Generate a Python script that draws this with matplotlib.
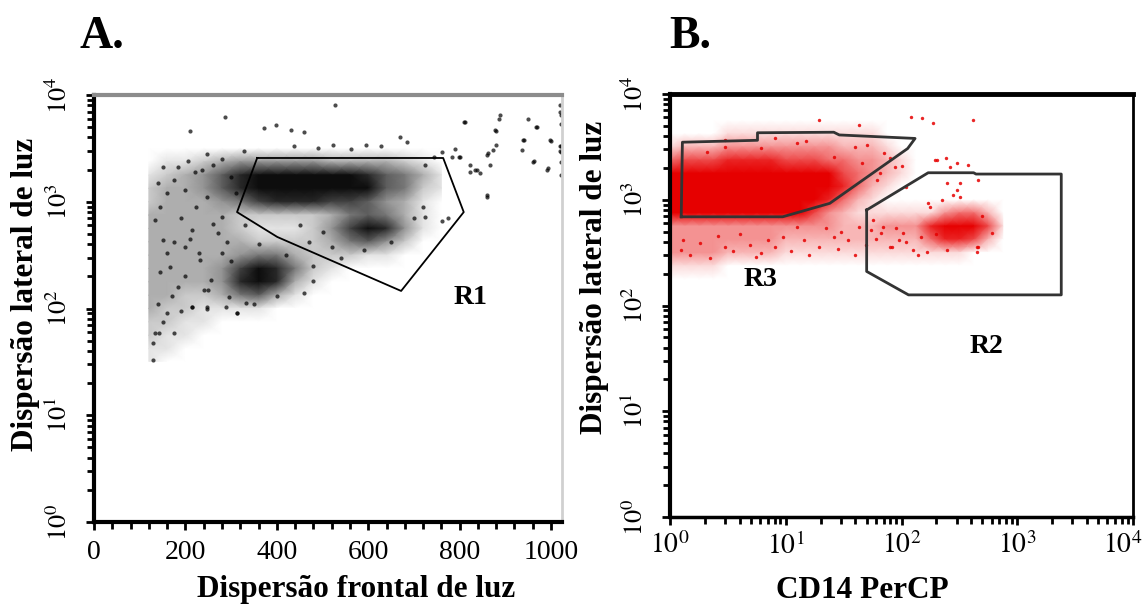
import numpy as np
import matplotlib
matplotlib.use("Agg")
import matplotlib.pyplot as plt
from matplotlib.colors import LinearSegmentedColormap
from matplotlib.ticker import MultipleLocator, LogLocator, NullFormatter
from matplotlib.transforms import ScaledTranslation

plt.rcParams['font.family'] = ['Liberation Serif', 'DejaVu Serif']
plt.rcParams['mathtext.fontset'] = 'stix'

# ---------------- panel A : FSC (linear) x SSC (log) ----------------
# density of the event cloud (0 = empty, 10 = solid)
a_grid_x = [120, 160, 200, 240, 280, 320, 360, 400, 440, 480, 520, 560, 600, 640, 680, 720, 760]
a_grid_y = [4217, 3162, 2371, 1778, 1334, 1000, 750, 562, 422, 316, 237, 178, 133, 100, 75, 56, 42, 32]
a_density = [
    [0, 0, 0, 0, 0, 0, 0, 0, 0, 0, 0, 0, 0, 0, 0, 0, 0],
    [0, 0, 0, 0, 0, 0, 0, 0, 0, 0, 0, 0, 0, 0, 0, 0, 0],
    [0, 1, 1, 2, 3, 4, 4, 4, 4, 4, 3, 3, 3, 3, 2, 1, 0],
    [1, 2, 3, 4, 6, 8, 9, 10, 10, 10, 9, 9, 8, 6, 5, 3, 1],
    [2, 3, 3, 4, 6, 8, 10, 10, 10, 10, 10, 10, 9, 6, 5, 2, 1],
    [2, 3, 3, 3, 4, 5, 7, 8, 8, 8, 7, 7, 6, 4, 3, 1, 0],
    [3, 3, 3, 3, 3, 2, 2, 2, 2, 2, 3, 5, 6, 5, 3, 1, 0],
    [3, 3, 3, 3, 3, 2, 1, 1, 1, 2, 4, 7, 9, 8, 4, 1, 0],
    [3, 3, 3, 3, 3, 3, 2, 2, 2, 2, 3, 5, 6, 4, 2, 0, 0],
    [3, 3, 3, 3, 3, 4, 5, 5, 3, 2, 2, 2, 1, 1, 0, 0, 0],
    [3, 3, 3, 3, 4, 7, 9, 8, 5, 2, 1, 0, 0, 0, 0, 0, 0],
    [3, 3, 3, 3, 4, 8, 10, 8, 3, 1, 0, 0, 0, 0, 0, 0, 0],
    [3, 3, 2, 2, 3, 5, 6, 3, 1, 0, 0, 0, 0, 0, 0, 0, 0],
    [3, 2, 2, 1, 1, 1, 1, 0, 0, 0, 0, 0, 0, 0, 0, 0, 0],
    [2, 2, 1, 1, 0, 0, 0, 0, 0, 0, 0, 0, 0, 0, 0, 0, 0],
    [2, 1, 1, 0, 0, 0, 0, 0, 0, 0, 0, 0, 0, 0, 0, 0, 0],
    [1, 1, 0, 0, 0, 0, 0, 0, 0, 0, 0, 0, 0, 0, 0, 0, 0],
    [1, 0, 0, 0, 0, 0, 0, 0, 0, 0, 0, 0, 0, 0, 0, 0, 0],
]

# single events outside / around the dense parts
a_dots_x = [527, 286, 209, 398, 373, 430, 460, 810, 887, 950, 1020, 879, 940, 968, 1000, 1020, 1020, 1020,
            992, 963, 863, 839, 823, 859, 790, 799, 745, 725, 669, 685, 628, 596, 563, 524, 490, 437, 329,
            280, 247, 774, 725, 762,
            888, 812, 877, 969, 939, 998, 1021, 1021, 1021, 1021, 1021, 1021, 993, 961, 936, 880, 873, 860,
            867, 845, 823, 834, 860, 801, 783, 761,
            134, 150, 167, 183, 159, 134, 175, 199, 215, 224, 199, 175, 183, 236, 248, 231, 256, 272, 280,
            215, 248, 280, 296, 312, 240, 130, 130, 142, 215, 247, 288, 313, 333,
            470, 520, 500, 450, 540, 590, 650, 700, 720, 480,
            140, 160, 145, 190, 210, 160, 145, 170, 200, 230, 260, 290, 300, 250, 190, 150, 140, 175,
            220, 260, 300, 310, 205, 150, 330, 360, 420, 480, 460, 400, 350]
a_dots_y = [8050, 6170, 4630, 5240, 4900, 4700, 4500, 5620, 5900, 5900, 8000, 4600, 3800, 5000, 3700, 3300, 3000, 7000,
            1990, 2400, 2860, 2000, 1900, 1115, 3100, 2600, 2600, 2200, 4070, 3600, 3300, 3400, 3100, 3400, 3200, 3300, 3000,
            2500, 2800, 706, 720, 660,
            6500, 5600, 4700, 5050, 3800, 3800, 6500, 5300, 3300, 2950, 2370, 1780, 2070, 2370, 3050, 3400, 3050, 2750,
            2200, 1860, 2200, 2000, 1150, 2630, 2630, 2950,
            675, 439, 247, 160, 90, 58.5, 58.5, 379, 543, 900, 1288, 1600, 2128, 1982, 1114, 284, 185, 506, 724,
            104, 104, 329, 129, 90, 149, 33, 47.5, 59, 104, 100, 104, 91, 112,
            420, 380, 520, 600, 300, 350, 420, 700, 900, 250,
            1500, 1200, 900, 700, 450, 330, 220, 130, 200, 330, 620, 420, 280, 150, 95, 75, 110, 420,
            1900, 2200, 1700, 1200, 2400, 2100, 600, 400, 320, 180, 140, 130, 110]

# gate R1
r1_x = [357, 764, 809, 672, 401, 313]
r1_y = [2570, 2570, 800, 146, 468, 800]

a_xticks = [0, 200, 400, 600, 800, 1000]
a_yticks = [1, 10, 100, 1000, 10000]
a_ytick_labels = ['$10^{0}$', '$10^{1}$', '$10^{2}$', '$10^{3}$', '$10^{4}$']

# ---------------- panel B : CD14 PerCP (log) x SSC (log) ----------------
b_grid_x = [1.00, 1.33, 1.78, 2.37, 3.16, 4.22, 5.62, 7.50, 10.0, 13.3, 17.8, 23.7,
            31.6, 42.2, 56.2, 75.0, 100, 133, 178, 237, 316, 422, 562, 750]
b_grid_y = [5623, 4217, 3162, 2371, 1778, 1334, 1000, 750, 562, 422, 316, 237, 178]
b_density = [
    [0, 0, 0, 0, 0, 0, 0, 0, 0, 0, 0, 0, 0, 0, 0, 0, 0, 0, 0, 0, 0, 0, 0, 0],
    [0, 0, 0, 0, 1, 1, 1, 1, 1, 1, 1, 1, 1, 1, 1, 0, 0, 0, 0, 0, 0, 0, 0, 0],
    [1, 2, 2, 2, 3, 3, 3, 3, 3, 3, 3, 3, 2, 2, 2, 1, 0, 0, 0, 0, 0, 0, 0, 0],
    [4, 5, 5, 5, 6, 6, 6, 6, 5, 5, 5, 4, 4, 3, 3, 2, 1, 0, 0, 0, 0, 0, 0, 0],
    [9, 10, 10, 10, 10, 10, 10, 10, 9, 9, 8, 7, 5, 4, 3, 2, 1, 0, 0, 0, 0, 0, 0, 0],
    [10, 10, 10, 10, 10, 10, 10, 10, 10, 10, 10, 8, 6, 4, 2, 1, 0, 0, 0, 0, 0, 0, 0, 0],
    [10, 10, 10, 10, 10, 10, 10, 10, 10, 10, 8, 6, 4, 2, 1, 0, 0, 0, 0, 0, 0, 0, 0, 0],
    [7, 8, 8, 8, 8, 8, 8, 8, 8, 7, 5, 3, 2, 1, 1, 1, 1, 1, 1, 3, 4, 4, 2, 0],
    [3, 3, 3, 3, 3, 3, 3, 3, 3, 3, 3, 3, 2, 2, 2, 3, 3, 3, 6, 10, 10, 10, 5, 1],
    [3, 3, 3, 3, 3, 3, 3, 3, 2, 2, 2, 2, 2, 2, 2, 2, 2, 2, 4, 6, 6, 5, 2, 0],
    [3, 3, 3, 3, 2, 2, 2, 2, 1, 1, 1, 1, 1, 1, 1, 1, 1, 1, 1, 1, 1, 0, 0, 0],
    [1, 1, 1, 1, 0, 0, 0, 0, 0, 0, 0, 0, 0, 0, 0, 0, 0, 0, 0, 0, 0, 0, 0, 0],
    [0, 0, 0, 0, 0, 0, 0, 0, 0, 0, 0, 0, 0, 0, 0, 0, 0, 0, 0, 0, 0, 0, 0, 0],
]

b_dots_x = [122, 151, 187, 415, 19.4, 42.9, 202, 241, 300, 322, 279, 224, 168, 462, 109,
            1.25, 1.80, 2.98, 4.93, 6.1, 9.4, 14.5, 19.4, 25.9, 34.5, 49.4, 66, 82, 94.6, 126, 462, 146, 42.9, 22.4, 12.6,
            25.9, 46, 71, 88, 61.5, 40, 12.6, 6.1, 2.98, 2.08,
            195, 262, 378, 300, 320, 246, 176, 446, 246, 165, 79.6, 104, 69.6, 57,
            1.5, 2.2, 3.5, 5.5, 8, 11, 16, 28, 40, 60, 110, 140, 1.3, 2.6, 4, 7, 30, 55, 90, 200, 450, 500, 600,
            3, 8, 15, 50, 80, 100, 65]
b_dots_y = [6100, 5890, 5290, 5680, 5680, 5090, 2380, 2466, 2213, 1432, 1109, 995, 925, 1537, 1328,
            335, 387, 360, 373, 311, 447, 416, 360, 447, 416, 373, 482, 360, 416, 335, 360, 447, 556, 537, 556,
            2553, 2213, 2750, 2056, 1537, 3175, 3420, 3065, 3175, 2850,
            2380, 2056, 2133, 1236, 1069, 1432, 859, 360, 335, 323, 360, 482, 556, 643,
            300, 280, 330, 290, 360, 330, 300, 340, 300, 430, 400, 300, 420, 450, 470, 420, 500, 520, 540, 470, 320, 700, 480,
            3700, 3800, 3600, 3300, 2500, 2100, 1800]

# gates R3 and R2
r3_x = [1.25, 1.28, 5.7, 5.7, 26, 29, 131, 113, 24, 9.4]
r3_y = [690, 3500, 3650, 4300, 4350, 4100, 3800, 3050, 925, 690]
r2_x = [50, 170, 420, 440, 2400, 2400, 115, 50]
r2_y = [800, 1800, 1800, 1750, 1750, 126, 126, 210]

b_ticks = [1, 10, 100, 1000, 10000]
b_tick_labels = ['$10^{0}$', '$10^{1}$', '$10^{2}$', '$10^{3}$', '$10^{4}$']

ink_a = LinearSegmentedColormap.from_list('ink_a', ['white', '#0d0d0d'])
ink_b = LinearSegmentedColormap.from_list('ink_b', ['white', '#e60000'])

fig = plt.figure(figsize=(11.48, 6.13), dpi=100)
axA = fig.add_axes([94 / 1148, 1 - 522 / 613, 468 / 1148, 427 / 613])
axB = fig.add_axes([670 / 1148, 1 - 517 / 613, 463 / 1148, 423 / 613])

# ---- draw A
gx, gy = np.meshgrid(a_grid_x, a_grid_y)
axA.pcolormesh(gx, gy, np.array(a_density), shading='gouraud', cmap=ink_a, vmin=0, vmax=9, zorder=1)
axA.scatter(a_dots_x, a_dots_y, s=9, c='black', alpha=0.7, linewidths=0, zorder=2)
axA.plot(r1_x + r1_x[:1], r1_y + r1_y[:1], color='black', lw=1.3, zorder=3)
axA.text(823, 128, 'R1', fontsize=20, fontweight='bold', ha='center', va='center')

axA.set_xlim(0, 1024)
axA.set_yscale('log')
axA.set_ylim(1, 10000)
axA.set_xticks(a_xticks)
axA.xaxis.set_minor_locator(MultipleLocator(40))
axA.set_yticks(a_yticks)
axA.set_yticklabels(a_ytick_labels, rotation=90, va='center')
axA.yaxis.set_minor_locator(LogLocator(base=10, subs=range(2, 10)))
axA.yaxis.set_minor_formatter(NullFormatter())
axA.tick_params(axis='both', which='both', direction='out', width=2, color='black')
axA.tick_params(axis='both', which='major', length=6)
axA.tick_params(axis='both', which='minor', length=5)
axA.tick_params(axis='x', labelsize=20, pad=7)
axA.tick_params(axis='y', labelsize=19, pad=10)

axA.spines['left'].set_linewidth(3)
axA.spines['bottom'].set_linewidth(3)
axA.spines['top'].set_linewidth(3)
axA.spines['top'].set_color('#8c8c8c')
axA.spines['right'].set_linewidth(2)
axA.spines['right'].set_color('#d0d0d0')

axA.set_xlabel('Dispersão frontal de luz', fontsize=22.5, fontweight='bold', va='center')
axA.xaxis.set_label_coords(0.56, -0.159)
axA.set_ylabel('Dispersão lateral de luz', fontsize=22.5, fontweight='bold', va='center')
axA.yaxis.set_label_coords(-0.147, 0.532)

# ---- draw B
hx, hy = np.meshgrid(b_grid_x, b_grid_y)
axB.pcolormesh(hx, hy, np.array(b_density), shading='gouraud', cmap=ink_b, vmin=0, vmax=7, zorder=1)
axB.scatter(b_dots_x, b_dots_y, s=6, c='#e60000', alpha=0.85, linewidths=0, zorder=2)
axB.plot(r3_x + r3_x[:1], r3_y + r3_y[:1], color='#333333', lw=2, zorder=3)
axB.plot(r2_x + r2_x[:1], r2_y + r2_y[:1], color='#333333', lw=2, zorder=3)
axB.text(6.1, 178, 'R3', fontsize=20, fontweight='bold', ha='center', va='center')
axB.text(545, 41, 'R2', fontsize=20, fontweight='bold', ha='center', va='center')

axB.set_xscale('log')
axB.set_yscale('log')
axB.set_xlim(1, 10000)
axB.set_ylim(1, 10000)
axB.set_xticks(b_ticks)
axB.set_xticklabels(b_tick_labels)
axB.set_yticks(b_ticks)
axB.set_yticklabels(b_tick_labels, rotation=90, va='center')
for axis in (axB.xaxis, axB.yaxis):
    axis.set_minor_locator(LogLocator(base=10, subs=range(2, 10)))
    axis.set_minor_formatter(NullFormatter())
axB.tick_params(axis='both', which='both', direction='out', width=2, color='black')
axB.tick_params(axis='both', which='major', length=6)
axB.tick_params(axis='both', which='minor', length=5)
axB.tick_params(axis='x', labelsize=20, pad=5)
axB.tick_params(axis='y', labelsize=19, pad=10)

# keep the 10^4 label inside the figure
last = axB.xaxis.get_major_ticks()[-1].label1
last.set_transform(last.get_transform() + ScaledTranslation(-10 / 100, 0, fig.dpi_scale_trans))

axB.spines['left'].set_linewidth(3)
axB.spines['bottom'].set_linewidth(2.5)
axB.spines['top'].set_linewidth(3.5)
axB.spines['right'].set_linewidth(2)

axB.set_xlabel('CD14 PerCP', fontsize=22.5, fontweight='bold', va='center')
axB.xaxis.set_label_coords(0.415, -0.173)
axB.set_ylabel('Dispersão lateral de luz', fontsize=22.5, fontweight='bold', va='center')
axB.yaxis.set_label_coords(-0.162, 0.567)

fig.text(102 / 1148, 1 - 37 / 613, 'A.', fontsize=33, fontweight='bold', ha='center', va='center')
fig.text(690 / 1148, 1 - 37 / 613, 'B.', fontsize=33, fontweight='bold', ha='center', va='center')

fig.savefig('out.png', dpi=100)
